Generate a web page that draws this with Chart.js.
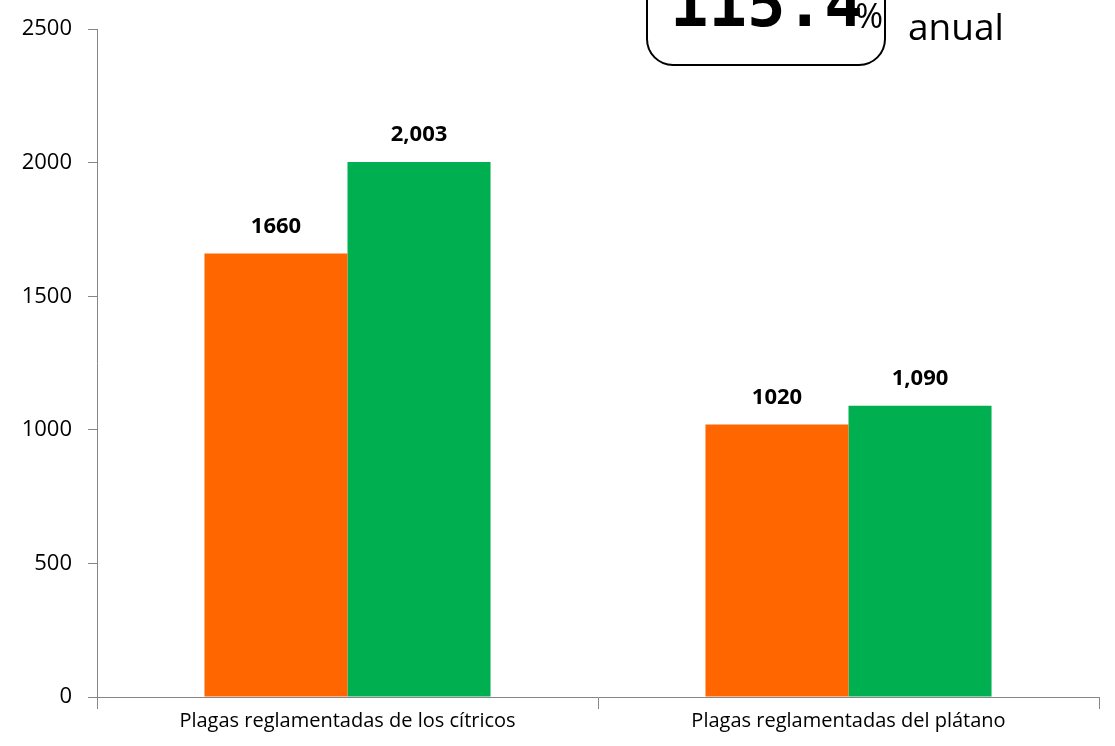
<!DOCTYPE html>
<html>
<head>
<meta charset="utf-8">
<title>Plagas reglamentadas</title>
<script src="https://cdn.jsdelivr.net/npm/chart.js"></script>
<style>
  html, body { margin: 0; padding: 0; background: #fff; }
  #wrap { width: 1115px; height: 746px; position: relative; }
</style>
</head>
<body>
<div id="wrap"><canvas id="chart" width="1115" height="746"></canvas></div>
<script>
// datos del grafico
const categorias = ['Plagas reglamentadas de los cítricos', 'Plagas reglamentadas del plátano'];
const serieA = [1660, 1020];
const serieB = [2003, 1090];
const etiquetasA = ['1660', '1020'];
const etiquetasB = ['2,003', '1,090'];
const ticksY = [0, 500, 1000, 1500, 2000, 2500];

const FONT = '"Open Sans", Carlito, sans-serif';
const GRIS = '#868686';

// etiquetas encima de cada barra
const etiquetasPlugin = {
    id: 'etiquetas',
    afterDatasetsDraw(chart) {
        const ctx = chart.ctx;
        const textos = [etiquetasA, etiquetasB];
        ctx.save();
        ctx.font = 'bold 22px ' + FONT;
        ctx.fillStyle = '#000';
        ctx.textAlign = 'center';
        ctx.textBaseline = 'middle';
        chart.data.datasets.forEach((ds, i) => {
            chart.getDatasetMeta(i).data.forEach((bar, j) => {
                ctx.fillText(textos[i][j], bar.x, bar.y - 27);
            });
        });
        ctx.restore();
    }
};

// recuadro "115.4% anual" (cortado arriba como en el original)
const recuadroPlugin = {
    id: 'recuadro',
    afterDraw(chart) {
        const ctx = chart.ctx;
        ctx.save();
        ctx.strokeStyle = '#000';
        ctx.lineWidth = 2;
        ctx.beginPath();
        ctx.roundRect(647, -40, 238, 105, 26);
        ctx.stroke();
        ctx.fillStyle = '#000';
        ctx.textBaseline = 'alphabetic';
        ctx.font = 'bold 64px "DejaVu Sans Mono", "Liberation Mono", monospace';
        ctx.textAlign = 'left';
        ctx.fillText('115.4', 670, 26);
        ctx.font = '34px ' + FONT;
        ctx.fillText('%', 855, 28);
        ctx.font = '37px ' + FONT;
        ctx.fillText('anual', 908, 40);
        ctx.restore();
    }
};

new Chart(document.getElementById('chart'), {
    type: 'bar',
    data: {
        labels: categorias,
        datasets: [
            { label: 'A', data: serieA, backgroundColor: '#FF6600', borderWidth: 0 },
            { label: 'B', data: serieB, backgroundColor: '#00B050', borderWidth: 0 }
        ]
    },
    options: {
        responsive: false,
        animation: false,
        devicePixelRatio: 1,
        layout: { padding: { top: 28, right: 16, left: 0, bottom: 0 } },
        plugins: { legend: { display: false }, tooltip: { enabled: false } },
        datasets: { bar: { categoryPercentage: 0.571, barPercentage: 1 } },
        scales: {
            x: {
                grid: { display: true, drawOnChartArea: false, drawTicks: true, tickLength: 12, color: GRIS, offset: true },
                border: { color: GRIS, width: 1 },
                ticks: { color: '#000', font: { family: FONT, size: 20 }, padding: 0, maxRotation: 0 },
                afterFit(scale) { scale.height = 49; }
            },
            y: {
                min: 0,
                max: 2500,
                afterBuildTicks(scale) { scale.ticks = ticksY.map(v => ({ value: v })); },
                grid: { display: true, drawOnChartArea: false, drawTicks: true, tickLength: 9, color: GRIS },
                border: { color: GRIS, width: 1 },
                ticks: { color: '#000', font: { family: FONT, size: 22 }, padding: 16, callback: v => String(v) },
                afterFit(scale) { scale.width = 97; }
            }
        }
    },
    plugins: [etiquetasPlugin, recuadroPlugin]
});
</script>
</body>
</html>
